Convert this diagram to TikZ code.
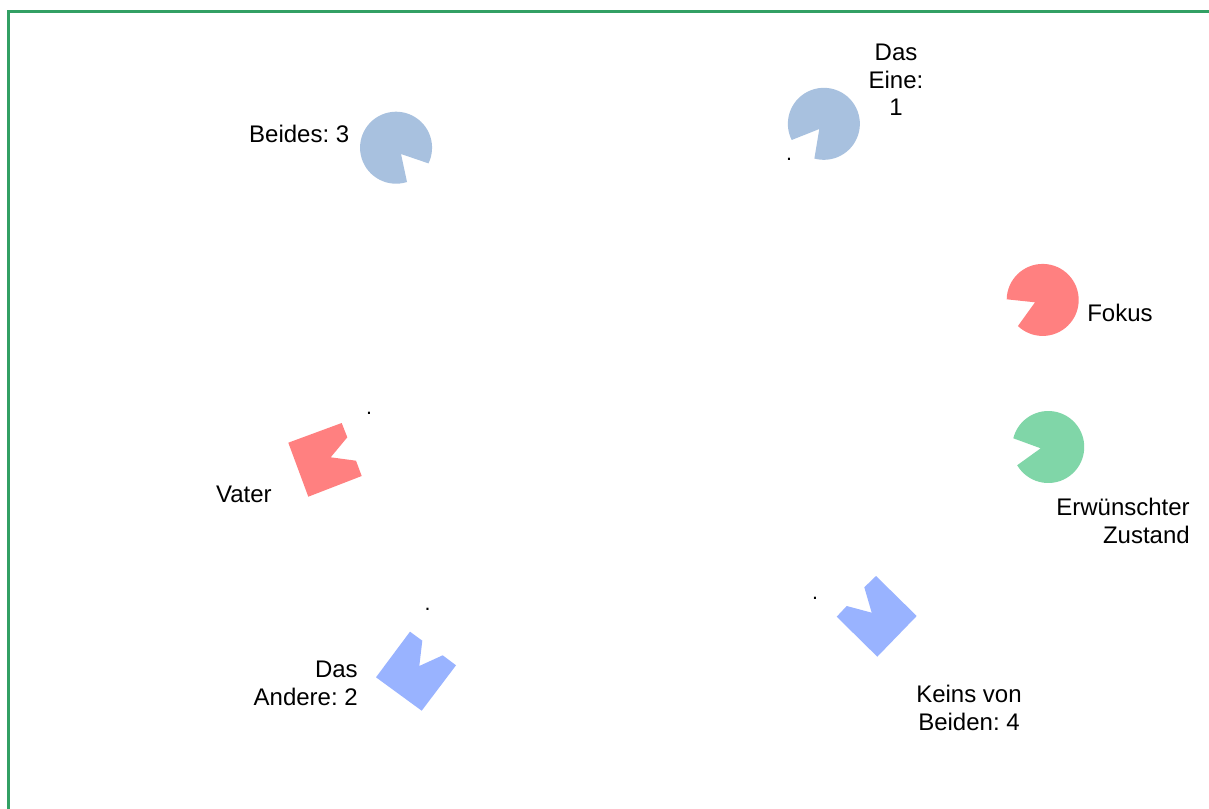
\documentclass[tikz,border=0pt]{standalone}
\usepackage{fontspec}
\setmainfont{Liberation Sans}
\frenchspacing
\definecolor{pieblue}{RGB}{168,193,223}
\definecolor{piered}{RGB}{255,128,128}
\definecolor{piegreen}{RGB}{128,214,168}
\definecolor{polyblue}{RGB}{153,179,255}
\definecolor{frame}{RGB}{50,160,100}
\tikzset{
  lbl/.style={font=\fontsize{18}{20.6}\selectfont, inner sep=0pt, text=black},
  dotlbl/.style={font=\fontsize{16}{18}\selectfont, inner sep=0pt, text=black},
}
\begin{document}
\begin{tikzpicture}[x=0.75pt,y=-0.75pt]
\useasboundingbox (0,0) rectangle (1209,809);
\clip (0,0) rectangle (1209,809);
\fill[white] (0,0) rectangle (1209,809);
\draw[frame, line width=2.2pt] (8.8,830) -- (8.8,11.5) -- (1230,11.5);

% pies
\fill[pieblue] (401,154) -- (407,182) arc[start angle=72.3, end angle=385.8, radius=36] -- cycle;
\fill[pieblue] (819.3,129) -- (791.7,140) arc[start angle=153.3, end angle=465.3, radius=36] -- cycle;
\fill[piered] (1035,302.3) -- (1006.7,299.3) arc[start angle=181, end angle=493.5, radius=36] -- cycle;
\fill[piegreen] (1040.7,448.3) -- (1013.3,438.3) arc[start angle=194, end angle=509.6, radius=36] -- cycle;

% notched squares
\fill[piered] (288.3,442.7) -- (341.7,423) -- (347.3,437.3) -- (330.7,457.3) -- (356,460.7) -- (361.7,476) -- (308.3,496.7) -- cycle;
\fill[polyblue] (410,631.7) -- (422.3,640.7) -- (419.3,666) -- (442.7,655.3) -- (456,665.3) -- (421.7,710.7) -- (376,677.3) -- cycle;
\fill[polyblue] (876,576) -- (916.7,616) -- (877.3,656.7) -- (836.7,616.7) -- (846.7,606) -- (871.7,612.7) -- (864.3,587.3) -- cycle;

% labels
\node[lbl, anchor=east] (beides) at (349.5,134) {Beides: 3};
\node[lbl, align=center] (eine) at (896,80) {Das\\Eine:\\1};
\node[lbl, anchor=west] (fokus) at (1087,313) {Fokus};
\node[lbl, align=right, anchor=east] (erw) at (1190,521) {Erwünschter\\Zustand};
\node[lbl, anchor=east] (vater) at (272,494) {Vater};
\node[lbl, align=right, anchor=east] (andere) at (358,683.5) {Das\\Andere: 2};
\node[lbl, align=center] (keins) at (969,708) {Keins von\\Beiden: 4};

% small dots
\node[dotlbl, anchor=base] (d1) at (789,161) {.};
\node[dotlbl, anchor=base] (d2) at (369,414) {.};
\node[dotlbl, anchor=base] (d3) at (427.7,610) {.};
\node[dotlbl, anchor=base] (d4) at (815,599.5) {.};
\end{tikzpicture}
\end{document}
